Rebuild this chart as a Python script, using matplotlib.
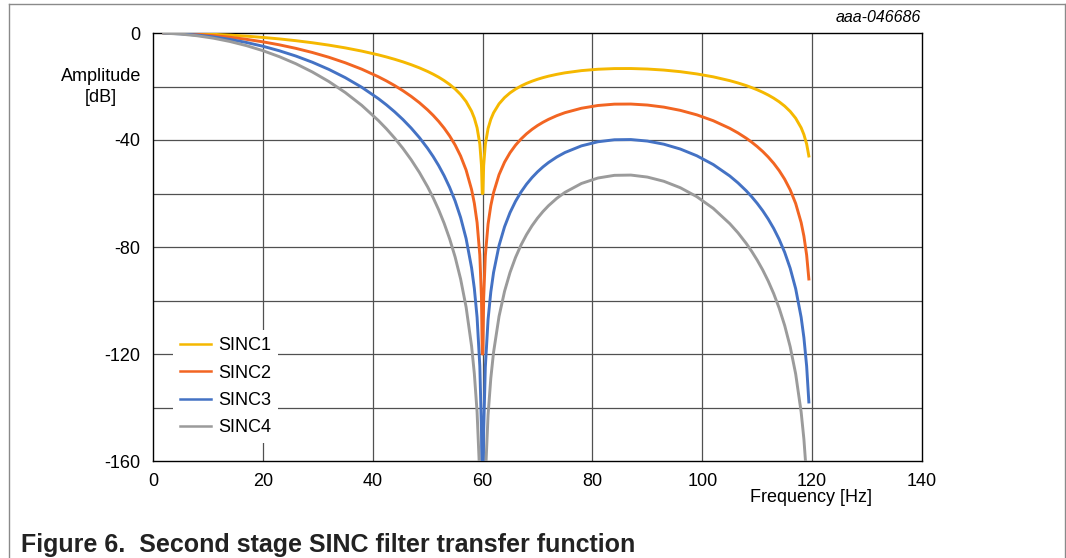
import matplotlib
matplotlib.use("Agg")
import matplotlib.pyplot as plt
from matplotlib.lines import Line2D

plt.rcParams['font.family'] = ['Liberation Sans', 'DejaVu Sans']

#--- values (dB)
freq = [2, 5, 8, 11, 14, 17, 20, 23, 26, 29,
        32, 35, 38, 41, 42.5, 44, 45.5, 47, 48.5, 50,
        51, 52, 53, 54, 55, 56, 57, 58, 58.5, 59,
        59.5, 59.8, 59.94, 60.06, 60.2, 60.5, 61, 61.5, 62, 63,
        64, 65, 66, 67, 68, 69, 70, 71, 72, 73.5,
        75, 78, 81, 84, 87, 90, 93, 96, 99, 102,
        105, 106.5, 108, 109, 110, 111, 112, 113, 114, 115,
        116, 117, 118, 118.5, 119, 119.4]

sinc1 = [-0.02, -0.10, -0.26, -0.49, -0.79, -1.18, -1.65, -2.21, -2.87, -3.64,
         -4.53, -5.56, -6.76, -8.16, -8.96, -9.83, -10.78, -11.85, -13.03, -14.38,
         -15.39, -16.51, -17.78, -19.23, -20.93, -22.99, -25.61, -29.26, -31.83, -35.42,
         -41.51, -49.51, -60.0, -60.0, -49.57, -41.66, -35.71, -32.27, -29.84, -26.48,
         -24.15, -22.38, -20.97, -19.82, -18.84, -18.02, -17.30, -16.68, -16.14, -15.46,
         -14.89, -14.06, -13.55, -13.30, -13.28, -13.47, -13.86, -14.46, -15.30, -16.39,
         -17.81, -18.68, -19.66, -20.41, -21.23, -22.15, -23.18, -24.36, -25.72, -27.33,
         -29.31, -31.86, -35.43, -37.96, -41.52, -45.98]

sinc2 = [-0.04, -0.20, -0.51, -0.97, -1.58, -2.36, -3.30, -4.42, -5.74, -7.28,
         -9.06, -11.13, -13.52, -16.33, -17.92, -19.66, -21.57, -23.69, -26.06, -28.76,
         -30.78, -33.03, -35.56, -38.46, -41.86, -45.97, -51.22, -58.53, -63.66, -70.84,
         -83.02, -99.03, -120.0, -120.0, -99.14, -83.31, -71.42, -64.53, -59.69, -52.96,
         -48.29, -44.76, -41.94, -39.63, -37.69, -36.03, -34.60, -33.37, -32.29, -30.91,
         -29.78, -28.13, -27.10, -26.60, -26.56, -26.93, -27.71, -28.92, -30.59, -32.79,
         -35.63, -37.35, -39.33, -40.81, -42.46, -44.29, -46.36, -48.71, -51.44, -54.67,
         -58.62, -63.72, -70.87, -75.92, -83.03, -91.96]

sinc3 = [-0.05, -0.30, -0.77, -1.46, -2.38, -3.54, -4.95, -6.64, -8.61, -10.92,
         -13.59, -16.69, -20.28, -24.49, -26.87, -29.48, -32.35, -35.54, -39.10, -43.14,
         -46.17, -49.54, -53.34, -57.69, -62.78, -68.96, -76.83, -87.79, -95.49, -106.26,
         -124.54, -148.54, -180.0, -180.0, -148.71, -124.97, -107.13, -96.80, -89.53, -79.44,
         -72.44, -67.13, -62.92, -59.45, -56.53, -54.05, -51.91, -50.05, -48.43, -46.37,
         -44.68, -42.19, -40.66, -39.91, -39.83, -40.40, -41.57, -43.38, -45.89, -49.18,
         -53.44, -56.03, -58.99, -61.22, -63.69, -66.44, -69.54, -73.07, -77.16, -82.00,
         -87.94, -95.57, -106.30, -113.89, -124.55, -137.94]

sinc4 = [-0.06, -0.40, -1.02, -1.94, -3.17, -4.72, -6.60, -8.85, -11.48, -14.56,
         -18.12, -22.25, -27.04, -32.66, -35.83, -39.31, -43.14, -47.38, -52.13, -57.52,
         -61.56, -66.06, -71.12, -76.92, -83.71, -91.95, -102.44, -117.06, -127.32, -141.68,
         -166.05, -198.06, -240.0, -240.0, -198.28, -166.63, -142.84, -129.06, -119.37, -105.92,
         -96.58, -89.51, -83.89, -79.26, -75.38, -72.06, -69.21, -66.73, -64.57, -61.82,
         -59.57, -56.25, -54.21, -53.21, -53.11, -53.86, -55.43, -57.84, -61.18, -65.57,
         -71.26, -74.70, -78.66, -81.63, -84.92, -88.58, -92.72, -97.42, -102.88, -109.34,
         -117.25, -127.43, -141.73, -151.85, -166.06, -183.92]

labels = ['SINC1', 'SINC2', 'SINC3', 'SINC4']
colors = ['#F5B800', '#F26522', '#4472C4', '#9B9B9B']

x_ticks = [0, 20, 40, 60, 80, 100, 120, 140]
y_ticks = [0, -40, -80, -120, -160]

W, H = 1066, 558
fig = plt.figure(figsize=(W / 100, H / 100), dpi=100)
ax = fig.add_axes([153 / W, 1 - 461 / H, (922 - 153) / W, (461 - 33) / H])

#--- grid every 20
for v in range(-140, 0, 20):
    ax.axhline(v, color='#505050', lw=0.9, zorder=1)
for v in range(20, 140, 20):
    ax.axvline(v, color='#505050', lw=0.9, zorder=1)

for series, lab, col in zip([sinc1, sinc2, sinc3, sinc4], labels, colors):
    ax.plot(freq, series, color=col, lw=2.1, label=lab, zorder=3)

ax.set_xlim(0, 140)
ax.set_ylim(-160, 0)
ax.set_xticks(x_ticks)
ax.set_yticks(y_ticks)
ax.set_yticklabels([str(v) for v in y_ticks])
ax.tick_params(length=0, labelsize=13, pad=9)
for s in ax.spines.values():
    s.set_color('black')
    s.set_linewidth(1.0)

handles = [Line2D([], [], color=c, lw=1.8) for c in colors]
leg = ax.legend(handles, labels, loc='upper left', bbox_to_anchor=(0.026, 0.306),
                borderaxespad=0, frameon=True, fancybox=False, framealpha=1,
                facecolor='white', edgecolor='none', fontsize=13,
                handlelength=1.7, handletextpad=0.4, labelspacing=0.57,
                borderpad=0.4)
leg.set_zorder(5)

fig.text(101 / W, 1 - 87 / H, 'Amplitude\n[dB]', ha='center', va='center',
         fontsize=13, linespacing=1.3)
fig.text(811 / W, 1 - 498 / H, 'Frequency [Hz]', ha='center', va='center', fontsize=13)
fig.text(921 / W, 1 - 18 / H, 'aaa-046686', ha='right', va='center',
         fontsize=11.5, style='italic')
fig.text(21 / W, 1 - 545 / H, 'Figure 6.  Second stage SINC filter transfer function',
         ha='left', va='center', fontsize=18, fontweight='bold', color='#222222')

#--- outer frame
frame_col = '#8a8a8a'
fig.add_artist(Line2D([9 / W, 9 / W], [0, 1 - 4 / H], color=frame_col, lw=1))
fig.add_artist(Line2D([9 / W, 1065 / W], [1 - 4 / H, 1 - 4 / H], color=frame_col, lw=1))
fig.add_artist(Line2D([1065 / W, 1065 / W], [0, 1 - 4 / H], color=frame_col, lw=1))

fig.savefig('out.png', dpi=100)
